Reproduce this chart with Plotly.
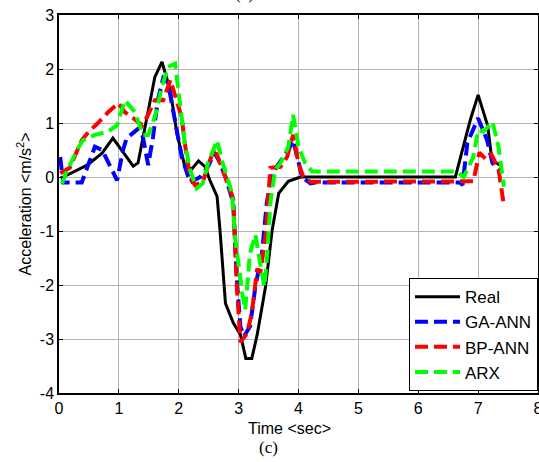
import plotly.graph_objects as go

# ---- data ----
t_real = [0.07, 0.47, 0.72, 0.9, 1.24, 1.32, 1.6, 1.72, 1.86, 1.97, 2.1, 2.22, 2.33, 2.44, 2.52, 2.64, 2.69,
          2.78, 2.91, 3.03, 3.12, 3.22, 3.31, 3.45, 3.56, 3.67, 3.83, 4.03, 6.62, 6.74, 6.87, 7.0, 7.16,
          7.23, 7.4]
v_real = [0.0, 0.22, 0.44, 0.72, 0.2, 0.26, 1.85, 2.13, 1.6, 0.8, 0.2, 0.15, 0.3, 0.19, -0.06, -0.36, -1.0,
          -2.34, -2.7, -2.92, -3.36, -3.36, -2.92, -2.03, -0.98, -0.3, -0.08, 0.0, 0.0, 0.53, 1.06, 1.52, 0.95,
          0.31, 0.2]

t_ga = [0.02, 0.07, 0.38, 0.6, 0.72, 0.97, 1.07, 1.13, 1.33, 1.4, 1.49, 1.57, 1.65, 1.74, 1.82, 2.05, 2.19,
        2.36, 2.49, 2.6, 2.69, 2.8, 2.91, 2.97, 3.03, 3.09, 3.19, 3.28, 3.39, 3.47, 3.56, 3.7, 3.83, 3.91,
        4.0, 4.06, 4.2, 4.3, 6.7, 6.74, 6.82, 7.0, 7.15, 7.24, 7.4]
v_ga = [0.37, -0.1, -0.1, 0.56, 0.5, -0.06, 0.5, 0.72, 0.9, 0.75, 0.22, 0.74, 1.42, 1.83, 1.75, 0.37, -0.1,
        0.0, 0.2, 0.45, 0.26, -0.06, -0.48, -1.9, -2.77, -2.95, -2.77, -2.03, -1.41, -0.48, 0.07, 0.31, 0.5,
        0.68, 0.3, 0.0, -0.12, -0.1, -0.1, -0.15, 0.63, 1.09, 0.68, 0.26, 0.07]

t_bp = [0.02, 0.18, 0.38, 0.49, 0.65, 0.82, 0.99, 1.1, 1.24, 1.39, 1.47, 1.6, 1.74, 1.86, 2.05, 2.1, 2.19,
        2.27, 2.4, 2.49, 2.6, 2.69, 2.8, 2.91, 2.97, 3.03, 3.14, 3.22, 3.31, 3.36, 3.45, 3.5, 3.53, 3.7,
        3.81, 3.91, 4.0, 4.08, 4.2, 6.92, 7.02, 7.13, 7.22, 7.34, 7.42]
v_bp = [0.07, 0.17, 0.68, 0.83, 1.0, 1.2, 1.37, 1.2, 1.09, 0.96, 1.11, 1.42, 1.42, 1.8, 1.1, 0.63, 0.0,
        -0.15, -0.1, 0.22, 0.53, 0.26, -0.06, -0.4, -2.03, -3.06, -2.9, -2.52, -1.7, -1.78, -1.1, -0.25,
        0.17, 0.19, 0.37, 0.78, 0.26, 0.0, -0.09, -0.08, 0.45, 0.33, 0.42, 0.15, -0.45]

t_arx = [0.05, 0.13, 0.3, 0.4, 0.6, 0.82, 0.97, 1.1, 1.27, 1.4, 1.49, 1.6, 1.72, 1.82, 1.94, 2.02, 2.1,
         2.19, 2.3, 2.4, 2.49, 2.64, 2.72, 2.89, 2.94, 3.06, 3.11, 3.19, 3.28, 3.36, 3.43, 3.48, 3.53, 3.61,
         3.7, 3.83, 3.91, 4.0, 4.11, 4.23, 4.36, 6.65, 6.76, 6.92, 7.0, 7.09, 7.24, 7.34, 7.43]
v_arx = [-0.12, 0.1, 0.5, 0.68, 0.78, 0.84, 0.96, 1.42, 1.2, 0.78, 0.78, 1.11, 1.67, 2.04, 2.1, 1.37, 0.63,
         0.13, -0.21, -0.12, 0.26, 0.68, 0.31, -0.3, -1.1, -2.15, -2.46, -1.41, -1.07, -1.6, -2.03, -1.41,
         -0.48, 0.13, 0.26, 0.56, 1.15, 0.56, 0.26, 0.1, 0.1, 0.1, 0.0, 0.37, 0.87, 0.84, 1.02, 0.56, -0.18]

x_ticks = [0, 1, 2, 3, 4, 5, 6, 7, 8]
y_ticks = [-4, -3, -2, -1, 0, 1, 2, 3]
x_tick_labels = [str(v) for v in x_ticks]
y_tick_labels = [str(v) for v in y_ticks]   # plain hyphen-minus as in the reference

FONT = "Liberation Sans, Arial, sans-serif"
SERIF = "Liberation Serif, Times New Roman, serif"
DASH = "13px,6px"

fig = go.Figure()
fig.add_trace(go.Scatter(x=t_real, y=v_real, mode="lines", name="Real",
                         line=dict(color="#000000", width=3)))
fig.add_trace(go.Scatter(x=t_ga, y=v_ga, mode="lines", name="GA-ANN",
                         line=dict(color="#0000ff", width=4, dash=DASH)))
fig.add_trace(go.Scatter(x=t_bp, y=v_bp, mode="lines", name="BP-ANN",
                         line=dict(color="#ff0000", width=4, dash=DASH)))
fig.add_trace(go.Scatter(x=t_arx, y=v_arx, mode="lines", name="ARX",
                         line=dict(color="#00ff00", width=4, dash=DASH)))

axis_common = dict(showline=True, linecolor="black", linewidth=1.5, mirror="ticks",
                   ticks="inside", ticklen=4, tickcolor="black",
                   showgrid=True, gridcolor="#b4b4b4", gridwidth=1, zeroline=False,
                   ticklabeloverflow="allow", automargin=False,
                   tickfont=dict(family=FONT, size=16, color="black"))

fig.update_layout(
    width=539, height=462,
    margin=dict(l=59, r=1, t=15, b=69, autoexpand=False),
    paper_bgcolor="white", plot_bgcolor="white",
    font=dict(family=FONT, size=16, color="black"),
    xaxis=dict(range=[0, 8], tickvals=x_ticks, ticktext=x_tick_labels, **axis_common),
    yaxis=dict(range=[-4, 3], tickvals=y_ticks, ticktext=y_tick_labels, **axis_common),
    showlegend=True,
    legend=dict(x=1, y=0.005, xanchor="right", yanchor="bottom",
                bgcolor="white", bordercolor="black", borderwidth=1,
                font=dict(family=FONT, size=17, color="black"),
                itemwidth=45, tracegroupgap=0),
    annotations=[
        dict(text="Time &lt;sec&gt;", xref="paper", yref="paper", x=0.482, y=-0.095,
             xanchor="center", yanchor="middle", showarrow=False,
             font=dict(family=FONT, size=16)),
        dict(text="(c)", xref="paper", yref="paper", x=0.438, y=-0.1455,
             xanchor="center", yanchor="middle", showarrow=False,
             font=dict(family=SERIF, size=17)),
        dict(text="(c)", xref="paper", yref="paper", x=0.388, y=1.056,
             xanchor="center", yanchor="middle", showarrow=False,
             font=dict(family=SERIF, size=17)),
        dict(text="Acceleration &lt;m/s<sup>2</sup>&gt;", xref="paper", yref="paper",
             x=-0.072, y=0.5, xanchor="center", yanchor="middle", textangle=-90,
             showarrow=False, font=dict(family=FONT, size=16)),
    ],
)

fig.write_html("out.html", config={"displayModeBar": False},
               post_script="document.body.style.margin='0';document.body.style.overflow='hidden';")
